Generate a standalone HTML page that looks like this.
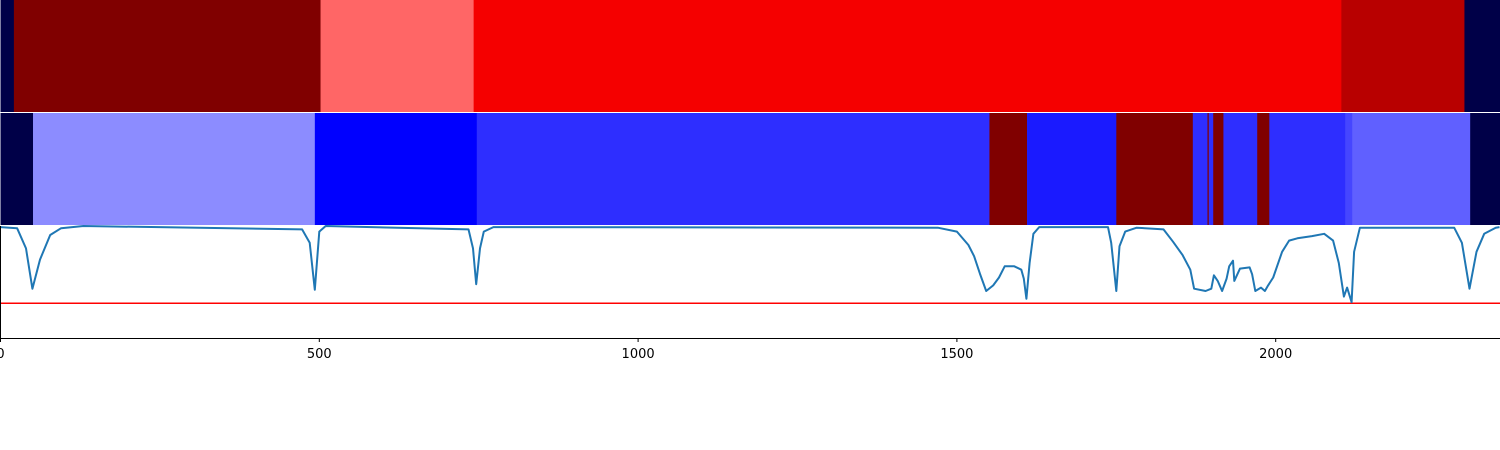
<!DOCTYPE html>
<html><head><meta charset="utf-8"><style>
html,body{margin:0;padding:0;background:#fff;width:1500px;height:450px;overflow:hidden}
svg{display:block}
text{font-family:"DejaVu Sans","Liberation Sans",sans-serif;font-size:13px;fill:#000}
</style></head><body>
<svg id="chart" width="1500" height="450" viewBox="0 0 1500 450" xmlns="http://www.w3.org/2000/svg">
<g id="top"></g>
<g id="mid"></g>
<g id="bot"></g>
<g id="axis"></g>
</svg>
<script>
const topStarts = [0, 21, 502, 742, 2103, 2296];
const topColors = ["#000048", "#800000", "#ff6666", "#f50000", "#b80000", "#000048"];
const midStarts = [0, 51, 493, 747, 1551, 1610, 1750, 1870, 1893, 1895, 1902, 1918, 1971, 1990, 2109, 2120, 2305];
const midColors = ["#000048", "#8c8cff", "#0000ff", "#2e2eff", "#800000", "#1a1aff", "#800000", "#2e2eff", "#800000", "#2e2eff", "#800000", "#2e2eff", "#800000", "#2e2eff", "#4646ff", "#6060ff", "#000048"];
const xMax = 2351;
const lineX = [0,26,40,50,62,78,95,130,473,485,493,500,510,734,741,746,752,758,773,1470,1500,1518,1527,1536,1546,1557,1566,1575,1590,1601,1605,1609,1614,1620,1629,1737,1742,1750,1755,1764,1782,1824,1839,1854,1866,1872,1890,1899,1903,1909,1916,1923,1927,1933,1935,1944,1959,1963,1968,1977,1983,1988,1996,2010,2021,2034,2057,2076,2090,2099,2107,2112,2119,2123,2132,2280,2292,2304,2315,2327,2345,2351];
const lineY = [0.99,0.98,0.8,0.44,0.7,0.92,0.98,1.0,0.97,0.85,0.43,0.95,1.0,0.97,0.8,0.48,0.8,0.95,0.99,0.985,0.95,0.83,0.73,0.575,0.42,0.47,0.54,0.64,0.64,0.61,0.53,0.35,0.67,0.93,0.99,0.99,0.85,0.42,0.82,0.95,0.985,0.97,0.86,0.74,0.61,0.44,0.42,0.44,0.56,0.51,0.42,0.53,0.64,0.69,0.51,0.62,0.63,0.57,0.42,0.45,0.42,0.47,0.54,0.77,0.87,0.89,0.91,0.93,0.87,0.67,0.37,0.45,0.32,0.77,0.985,0.985,0.85,0.44,0.77,0.93,0.985,0.99];
const threshold = 0.31;
const xTicks = [0, 500, 1000, 1500, 2000];

const NS = "http://www.w3.org/2000/svg";
const W = 1500;
const sx = v => 0.5 + v * (W - 1) / xMax;
const yTop = 226, yBot = 338;
const sy = v => yBot - v * (yBot - yTop);
function mk(tag, attrs, parent){const e=document.createElementNS(NS,tag);for(const k in attrs)e.setAttribute(k,attrs[k]);parent.appendChild(e);return e;}

function band(g, starts, colors, y, h, prefix){
  for(let i=0;i<starts.length;i++){
    const x0=sx(starts[i]), x1=i+1<starts.length?sx(starts[i+1]):W;
    const r=mk("rect",{x:x0,y:y,width:Math.max(0,x1-x0)+0.3,height:h,fill:colors[i]},g);
    
    
  }
}
band(document.getElementById('top'), topStarts, topColors, 0, 112, 'top-band');
band(document.getElementById('mid'), midStarts, midColors, 113, 112, 'middle-band');

const bot=document.getElementById('bot');
const th=mk("line",{x1:0,x2:W,y1:sy(threshold),y2:sy(threshold),stroke:"#ff0000","stroke-width":1.5},bot);


let d="";
for(let i=0;i<lineX.length;i++){d+=(i?"L":"M")+sx(lineX[i]).toFixed(1)+","+sy(lineY[i]).toFixed(1);}
const p=mk("path",{d:d,fill:"none",stroke:"#1f77b4","stroke-width":2,"stroke-linejoin":"round"},bot);



const ax=document.getElementById('axis');
const sp1=mk("line",{x1:0.5,x2:0.5,y1:226,y2:338,stroke:"#000","stroke-width":1},ax);


const sp2=mk("line",{x1:0,x2:W,y1:338.5,y2:338.5,stroke:"#000","stroke-width":1},ax);


xTicks.forEach(t=>{
  const x=sx(t);
  const tk=mk("line",{x1:x,x2:x,y1:338,y2:342,stroke:"#000","stroke-width":1},ax);
  
  
  const tx=mk("text",{x:x,y:358,"text-anchor":"middle"},ax);
  tx.textContent=t;
  
  
});
</script>
</body></html>
